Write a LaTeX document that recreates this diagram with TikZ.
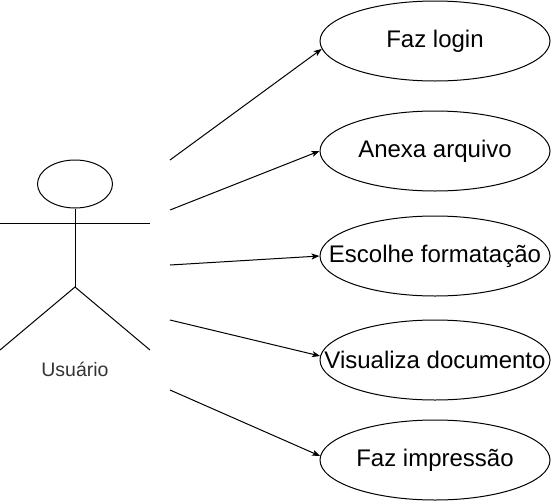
\documentclass[tikz,border=0pt]{standalone}
\usepackage{fontspec}
\setmainfont{Liberation Sans}
\usetikzlibrary{shapes.geometric,arrows.meta}
\newcommand\uctext[1]{\makebox[0pt][c]{#1}}
\begin{document}
\begin{tikzpicture}[x=1pt,y=-1pt,line width=1pt,
  usecase/.style={draw,ellipse,minimum width=230pt,minimum height=80pt,inner sep=0pt,font=\fontsize{24}{28}\selectfont},
  assoc/.style={-{Stealth[length=8pt,width=6pt,inset=2pt]}}]
\useasboundingbox (0,0) rectangle (551,501);
% actor
\node[draw,ellipse,minimum width=75pt,minimum height=48pt,inner sep=0pt] (head) at (75,184) {};
\coordinate (hip) at (75,287);
\coordinate (larm) at (0,223);
\coordinate (rarm) at (150,223);
\coordinate (lfoot) at (0,350);
\coordinate (rfoot) at (150,350);
\draw (head.south) -- (hip);
\draw (larm) -- (rarm);
\draw (lfoot) -- (hip) -- (rfoot);
\node[text=black!80,font=\fontsize{19.5}{23}\selectfont] (actor) at (75,369) {Usuário};
% use cases
\node[usecase] (u1) at (435,41) {\uctext{Faz login}};
\node[usecase] (u2) at (435,151) {\uctext{Anexa arquivo}};
\node[usecase] (u3) at (435,256) {\uctext{Escolhe formatação}};
\node[usecase] (u4) at (435,360) {\uctext{Visualiza documento}};
\node[usecase] (u5) at (435,460) {\uctext{Faz impressão}};
% start points
\coordinate (s1) at (170,160);
\coordinate (s2) at (170,210);
\coordinate (s3) at (170,265);
\coordinate (s4) at (170,320);
\coordinate (s5) at (170,390);
\draw[assoc] (s1) -- (u1.184);
\draw[assoc] (s2) -- (u2.west);
\draw[assoc] (s3) -- (u3.west);
\draw[assoc] (s4) -- (u4.178);
\draw[assoc] (s5) -- (u5.178);
\end{tikzpicture}
\end{document}
